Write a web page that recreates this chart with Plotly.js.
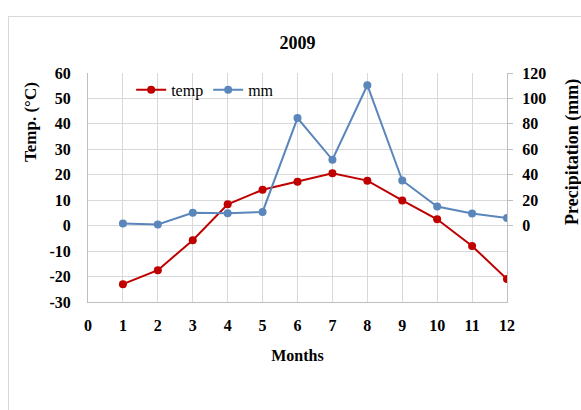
<!DOCTYPE html>
<html><head><meta charset="utf-8">
<script src="https://cdn.plot.ly/plotly-3.0.1.min.js"></script>
<style>
html,body{margin:0;padding:0;background:#fff;}
#frame{position:absolute;left:8px;top:16px;width:590px;height:400px;border:1px solid #d9d9d9;}
#chart{position:absolute;left:0;top:0;width:581px;height:410px;}
</style></head>
<body>
<div id="frame"></div>
<div id="chart"></div>
<script>
const months = [1,2,3,4,5,6,7,8,9,10,11,12];
const temp = [-23.0,-17.5,-5.7,8.4,14.1,17.3,20.6,17.7,9.9,2.5,-8.0,-21.0];
const mm = [1.8,1.0,10.2,9.7,10.8,84.6,51.8,110.4,35.5,15.0,9.5,6.0];
const xTicks = [0,1,2,3,4,5,6,7,8,9,10,11,12];
const yTicks = [-30,-20,-10,0,10,20,30,40,50,60];
const yTickText = ['-30','-20','-10','0','10','20','30','40','50','60'];
const y2Ticks = [0,20,40,60,80,100,120];

const serif = "'Liberation Serif','Times New Roman',serif";
const tickFont = {family: serif, size: 16, color: '#000', weight: 'bold'};

const traces = [
  {x: months, y: temp, name: 'temp', type: 'scatter', mode: 'lines+markers',
   line: {color: '#C00000', width: 2}, marker: {color: '#C00000', size: 8}, yaxis: 'y'},
  {x: months, y: mm, name: 'mm', type: 'scatter', mode: 'lines+markers',
   line: {color: '#5A86BC', width: 2}, marker: {color: '#5A86BC', size: 8}, yaxis: 'y2'}
];

const layout = {
  width: 581, height: 410,
  paper_bgcolor: 'rgba(0,0,0,0)', plot_bgcolor: 'rgba(0,0,0,0)',
  margin: {l: 88, r: 74, t: 73, b: 108},
  title: {text: '<b>2009</b>', font: {family: serif, size: 18, color: '#000'}, x: 0.5, xref: 'paper', y: 1 - 43/410, yanchor: 'middle'},
  showlegend: true,
  legend: {orientation: 'h', x: 0.103, y: 0.926, xanchor: 'left', yanchor: 'middle',
    bgcolor: 'rgba(0,0,0,0)', font: {family: serif, size: 16, color: '#000'}, itemwidth: 30, tracegroupgap: 0},
  xaxis: {range: [0, 12], tickvals: xTicks, showgrid: true, gridcolor: '#d9d9d9', gridwidth: 1,
    showline: true, linecolor: '#bfbfbf', zeroline: false, ticks: '', tickfont: tickFont,
    ticklabelstandoff: 9,
    title: {text: '<b>Months</b>', font: {family: serif, size: 16, color: '#000'}, standoff: 16}},
  yaxis: {range: [-30, 60], tickvals: yTicks, ticktext: yTickText, showgrid: true, gridcolor: '#d9d9d9', gridwidth: 1,
    showline: true, linecolor: '#bfbfbf', zeroline: false, ticks: '', tickfont: tickFont,
    ticklabelstandoff: 13},
  yaxis2: {range: [-60, 120], tickvals: y2Ticks, overlaying: 'y', side: 'right', showgrid: false,
    showline: true, linecolor: '#bfbfbf', zeroline: false, ticks: 'outside', ticklen: 5, tickcolor: '#bfbfbf',
    tickfont: tickFont, ticklabelstandoff: 6},
  annotations: [
    {text: '<b>Temp. (°C)</b>', textangle: -90, xref: 'paper', yref: 'paper',
     x: (30 - 88) / 419, y: (302 - 122) / 229, xanchor: 'center', yanchor: 'middle', showarrow: false,
     font: {family: serif, size: 17, color: '#000'}},
    {text: '<b>Precipitation (mm)</b>', textangle: -90, xref: 'paper', yref: 'paper',
     x: (572 - 88) / 419, y: (302 - 152) / 229, xanchor: 'center', yanchor: 'middle', showarrow: false,
     font: {family: serif, size: 18, color: '#000'}}
  ]
};

Plotly.newPlot('chart', traces, layout, {displayModeBar: false, staticPlot: true});
</script>
</body></html>
